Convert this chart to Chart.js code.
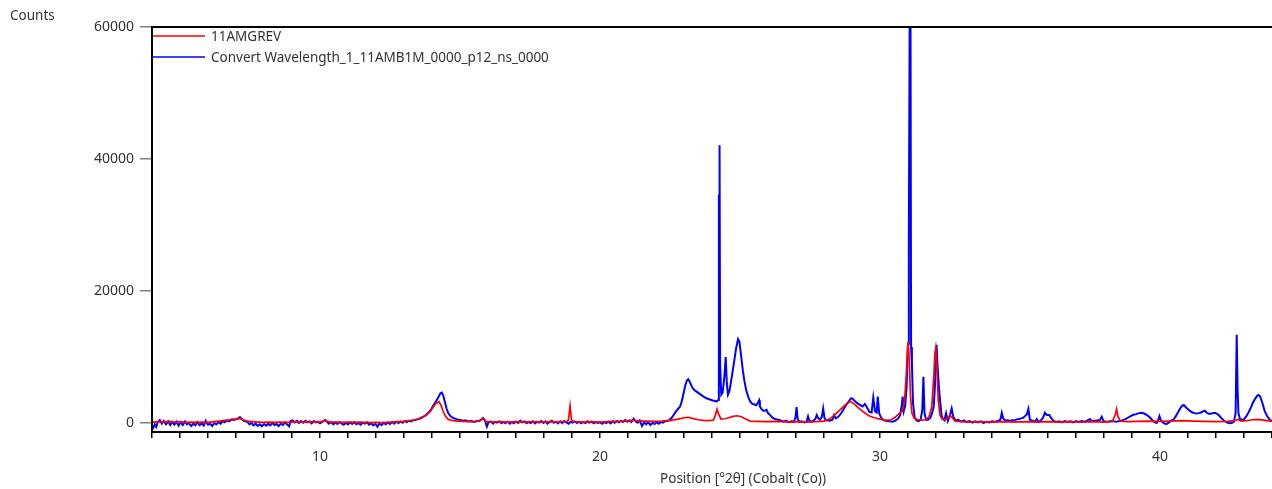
<!DOCTYPE html>
<html>
<head>
<meta charset="utf-8">
<title>11AMGREV vs 11AMB1M</title>
<script src="https://cdn.jsdelivr.net/npm/chart.js@4.4.1/dist/chart.umd.min.js"></script>
<style>
    html, body { margin: 0; padding: 0; background: #fff; overflow: hidden; }
    #wrap { width: 1272px; height: 489px; position: relative; }
</style>
</head>
<body>
<div id="wrap"><canvas id="scan"></canvas></div>
<script>
// Scan 1: 11AMGREV  [2theta, counts]
const redScan = [
    [4.00, 100], [4.20, 200], [4.40, 150], [4.60, 250], [4.80, 150], [5.00, 200], [5.20, 100],
    [5.40, 150], [5.60, 100], [5.80, 150], [6.00, 100], [6.20, 200], [6.40, 300], [6.60, 400],
    [6.80, 500], [7.00, 600], [7.14, 700], [7.25, 500], [7.40, 300], [7.60, 200], [7.80, 150],
    [8.00, 100], [8.20, 150], [8.40, 100], [8.60, 150], [8.80, 100], [9.00, 150], [9.20, 200],
    [9.40, 150], [9.60, 200], [9.80, 150], [10.00, 150], [10.18, 400], [10.35, 150], [10.60, 150],
    [10.80, 100], [11.00, 150], [11.20, 100], [11.40, 150], [11.60, 100], [11.80, 50], [12.00, 100],
    [12.20, 50], [12.40, 100], [12.60, 150], [12.80, 200], [13.00, 250], [13.20, 350], [13.40, 500],
    [13.60, 750], [13.80, 1200], [13.95, 1800], [14.05, 2450], [14.15, 3000], [14.25, 3250],
    [14.32, 2700], [14.38, 2000], [14.43, 1450], [14.50, 900], [14.58, 550], [14.70, 400],
    [14.90, 300], [15.10, 250], [15.40, 200], [15.60, 250], [15.75, 450], [15.83, 700], [15.92, 250],
    [16.10, 150], [16.40, 200], [16.70, 150], [17.00, 200], [17.30, 150], [17.60, 200], [17.90, 150],
    [18.20, 200], [18.50, 150], [18.80, 200], [18.87, 400], [18.93, 2600], [18.98, 500], [19.05, 200],
    [19.40, 150], [19.70, 200], [20.00, 150], [20.30, 200], [20.60, 250], [20.90, 300], [21.10, 400],
    [21.30, 350], [21.60, 300], [21.90, 250], [22.20, 300], [22.50, 400], [22.80, 600], [23.00, 800],
    [23.15, 870], [23.30, 700], [23.50, 500], [23.70, 400], [23.90, 350], [24.05, 450], [24.12, 1200],
    [24.18, 2100], [24.24, 1300], [24.32, 600], [24.45, 650], [24.60, 800], [24.75, 1000], [24.90, 1100],
    [25.05, 950], [25.20, 600], [25.36, 300], [25.60, 250], [25.90, 200], [26.20, 250], [26.50, 200],
    [26.80, 150], [27.10, 200], [27.40, 150], [27.70, 200], [28.00, 300], [28.20, 600], [28.40, 1300],
    [28.60, 2100], [28.80, 2900], [28.93, 3250], [29.05, 3000], [29.20, 2400], [29.40, 1700],
    [29.60, 1100], [29.80, 800], [30.00, 600], [30.20, 400], [30.40, 500], [30.55, 900], [30.70, 1500],
    [30.80, 1800], [30.88, 3500], [30.94, 7500], [30.98, 11000], [31.01, 12350], [31.05, 9000],
    [31.09, 4000], [31.14, 1500], [31.22, 700], [31.35, 500], [31.50, 450], [31.65, 500], [31.75, 900],
    [31.85, 2500], [31.92, 7000], [31.96, 10500], [31.99, 11350], [32.03, 8500], [32.08, 3500],
    [32.14, 1200], [32.22, 600], [32.32, 500], [32.42, 800], [32.50, 1200], [32.58, 800], [32.68, 300],
    [32.90, 200], [33.20, 150], [33.60, 200], [34.00, 150], [34.40, 200], [34.80, 150], [35.20, 200],
    [35.60, 150], [36.00, 200], [36.40, 150], [36.80, 200], [37.20, 150], [37.60, 200], [38.00, 150],
    [38.30, 250], [38.40, 1200], [38.45, 2130], [38.50, 1000], [38.58, 300], [38.80, 200], [39.20, 250],
    [39.60, 300], [40.00, 250], [40.40, 300], [40.80, 350], [41.20, 300], [41.60, 250], [42.00, 200],
    [42.40, 250], [42.70, 400], [42.80, 550], [42.90, 300], [43.10, 350], [43.30, 500], [43.50, 560],
    [43.70, 450], [44.00, 250]
];

// Scan 2: converted wavelength pattern  [2theta, counts]
const blueScan = [
    [4.00, -1050], [4.05, -700], [4.10, -200], [4.15, -600], [4.20, 100], [4.28, 450], [4.35, -100],
    [4.42, 300], [4.50, -200], [4.58, 250], [4.65, -300], [4.72, 150], [4.80, -250], [4.88, 200],
    [4.95, -400], [5.02, 100], [5.10, -300], [5.18, 250], [5.25, -200], [5.32, 0], [5.40, -450],
    [5.48, -100], [5.55, -350], [5.62, 150], [5.70, -300], [5.78, -50], [5.85, -400], [5.92, 350],
    [6.00, -250], [6.08, -100], [6.15, -450], [6.22, 0], [6.30, -200], [6.38, 150], [6.45, -100],
    [6.52, 300], [6.60, 100], [6.68, 400], [6.75, 250], [6.85, 550], [6.95, 500], [7.05, 650],
    [7.14, 900], [7.22, 550], [7.30, 300], [7.40, 200], [7.48, -200], [7.55, 50], [7.62, -350],
    [7.70, -100], [7.78, -450], [7.85, -200], [7.92, -500], [8.00, -150], [8.08, -400], [8.15, -100],
    [8.22, -350], [8.30, 0], [8.38, -300], [8.45, -150], [8.52, -450], [8.60, -100], [8.68, -300],
    [8.75, 100], [8.82, -200], [8.90, -500], [8.95, 300], [9.02, 400], [9.10, 100], [9.18, 350],
    [9.25, 0], [9.32, 300], [9.40, 50], [9.48, 350], [9.55, 100], [9.62, 250], [9.70, -50],
    [9.78, 300], [9.85, 100], [9.92, 200], [10.00, -50], [10.08, 150], [10.18, 450], [10.25, 200],
    [10.32, -100], [10.40, 150], [10.48, -200], [10.55, 100], [10.62, -150], [10.70, 150],
    [10.78, -100], [10.85, -250], [10.92, 50], [11.00, -200], [11.08, 100], [11.15, -150],
    [11.22, 150], [11.30, -200], [11.38, 0], [11.45, -250], [11.52, 50], [11.60, -100], [11.68, 100],
    [11.75, -250], [11.82, -50], [11.90, -350], [11.98, -150], [12.05, -550], [12.12, -100],
    [12.20, -300], [12.28, 0], [12.35, -200], [12.42, 100], [12.50, -150], [12.58, 150], [12.65, -100],
    [12.72, 200], [12.80, 0], [12.88, 250], [12.95, 50], [13.02, 300], [13.10, 150], [13.18, 350],
    [13.25, 250], [13.32, 400], [13.40, 450], [13.48, 550], [13.55, 650], [13.62, 800], [13.70, 950],
    [13.78, 1200], [13.86, 1500], [13.95, 1950], [14.03, 2550], [14.10, 3000], [14.17, 3500],
    [14.24, 4000], [14.30, 4500], [14.35, 4600], [14.40, 4200], [14.46, 3200], [14.52, 2200],
    [14.58, 1500], [14.65, 1100], [14.72, 850], [14.80, 700], [14.90, 550], [15.00, 450], [15.10, 350],
    [15.20, 400], [15.30, 250], [15.40, 300], [15.50, 150], [15.60, 300], [15.70, 350], [15.78, 600],
    [15.83, 750], [15.90, 300], [15.96, -550], [16.02, 100], [16.10, 250], [16.18, -100], [16.25, 200],
    [16.32, 50], [16.40, 250], [16.48, -50], [16.55, 150], [16.62, 0], [16.70, 200], [16.78, -100],
    [16.85, 150], [16.92, -50], [17.00, 200], [17.08, 0], [17.15, 350], [17.22, 100], [17.30, 250],
    [17.38, -50], [17.45, 150], [17.52, 0], [17.60, 250], [17.68, -50], [17.75, 200], [17.82, 50],
    [17.90, 300], [17.98, 0], [18.05, 250], [18.12, -100], [18.20, 150], [18.28, 350], [18.35, 50],
    [18.42, 200], [18.50, -50], [18.58, 250], [18.65, 0], [18.72, 300], [18.80, 100], [18.88, -100],
    [18.95, 200], [19.02, 50], [19.10, 250], [19.18, 0], [19.25, 200], [19.32, -50], [19.40, 150],
    [19.48, 0], [19.55, 250], [19.62, 50], [19.70, 200], [19.78, -50], [19.85, 150], [19.92, 0],
    [20.00, 100], [20.08, -100], [20.15, 150], [20.22, 0], [20.30, 200], [20.38, -50], [20.45, 250],
    [20.52, 50], [20.60, 300], [20.68, 100], [20.75, 350], [20.82, 150], [20.90, 450], [20.98, 200],
    [21.05, 400], [21.12, 150], [21.20, 650], [21.28, 250], [21.35, 50], [21.42, 400], [21.50, -450],
    [21.58, 100], [21.65, -200], [21.72, 150], [21.80, -300], [21.88, 50], [21.95, -150], [22.02, 100],
    [22.10, -100], [22.18, 150], [22.25, 50], [22.32, 250], [22.40, 300], [22.48, 450], [22.56, 800],
    [22.64, 1300], [22.72, 1800], [22.80, 2200], [22.86, 2500], [22.92, 3300], [22.98, 4400],
    [23.04, 5600], [23.10, 6400], [23.15, 6650], [23.20, 6300], [23.26, 5700], [23.32, 5200],
    [23.40, 4900], [23.50, 4600], [23.60, 4300], [23.70, 4000], [23.80, 3750], [23.90, 3600],
    [24.00, 3450], [24.10, 3350], [24.17, 3250], [24.22, 3500], [24.245, 34600], [24.255, 30000],
    [24.27, 42100], [24.29, 9000], [24.33, 4300], [24.38, 4600], [24.44, 7000], [24.49, 10000],
    [24.53, 6000], [24.57, 4300], [24.62, 4800], [24.70, 6800], [24.78, 9000], [24.86, 11300],
    [24.93, 12700], [24.98, 12300], [25.04, 10200], [25.10, 8000], [25.16, 6300], [25.22, 5000],
    [25.29, 4000], [25.36, 3300], [25.44, 2900], [25.52, 2800], [25.58, 2700], [25.65, 3200],
    [25.68, 3450], [25.71, 2500], [25.78, 2050], [25.85, 1850], [25.90, 1900], [25.95, 2000],
    [26.00, 1500], [26.08, 1200], [26.16, 800], [26.25, 600], [26.35, 500], [26.45, 400], [26.55, 200],
    [26.65, 350], [26.75, 100], [26.85, 300], [26.92, 150], [26.98, 800], [27.02, 2400], [27.06, 600],
    [27.12, 150], [27.20, 250], [27.30, 100], [27.38, 250], [27.43, 1000], [27.48, 300], [27.56, 200],
    [27.64, 400], [27.70, 700], [27.74, 1200], [27.80, 700], [27.86, 500], [27.92, 900], [27.97, 2200],
    [28.02, 700], [28.10, 400], [28.20, 350], [28.30, 500], [28.36, 1200], [28.42, 700], [28.50, 900],
    [28.60, 1400], [28.70, 2100], [28.80, 2800], [28.90, 3350], [28.96, 3750], [29.02, 3700],
    [29.08, 3400], [29.15, 3150], [29.22, 2900], [29.30, 2700], [29.38, 2500], [29.46, 2900],
    [29.54, 2300], [29.62, 1700], [29.70, 1600], [29.76, 3850], [29.82, 1800], [29.88, 1600],
    [29.92, 4000], [29.97, 1500], [30.05, 700], [30.15, 400], [30.25, 300], [30.35, 250], [30.45, 200],
    [30.55, 350], [30.65, 700], [30.72, 1200], [30.78, 2800], [30.81, 4000], [30.85, 1800],
    [30.90, 2600], [30.95, 5500], [31.00, 12000], [31.03, 28000], [31.06, 61000], [31.09, 61000],
    [31.11, 11500], [31.14, 9000], [31.18, 3000], [31.24, 800], [31.30, 400], [31.38, 300],
    [31.45, 500], [31.51, 2000], [31.55, 7000], [31.59, 1500], [31.65, 500], [31.72, 500], [31.80, 800],
    [31.86, 1500], [31.92, 2500], [31.96, 5500], [32.00, 11000], [32.02, 11850], [32.05, 9000],
    [32.10, 5700], [32.15, 3200], [32.20, 1100], [32.25, 600], [32.30, 400], [32.36, 1500],
    [32.42, 300], [32.50, 1200], [32.56, 2200], [32.62, 900], [32.70, 400], [32.80, 500], [32.90, 200],
    [33.00, 400], [33.10, 150], [33.20, 300], [33.30, 50], [33.40, 250], [33.50, 100], [33.60, 250],
    [33.70, 0], [33.80, 200], [33.90, 100], [34.00, 250], [34.10, 150], [34.20, 300], [34.30, 500],
    [34.35, 1550], [34.40, 700], [34.48, 350], [34.56, 400], [34.64, 300], [34.72, 450], [34.80, 400],
    [34.88, 550], [34.96, 600], [35.05, 700], [35.12, 800], [35.18, 1050], [35.24, 1300], [35.30, 2150],
    [35.35, 500], [35.42, 400], [35.50, 200], [35.56, 350], [35.60, 600], [35.66, 150], [35.74, 350],
    [35.82, 800], [35.89, 1550], [35.96, 1200], [36.05, 1200], [36.12, 700], [36.20, 300], [36.30, 150],
    [36.40, 250], [36.50, 100], [36.60, 300], [36.70, 150], [36.80, 250], [36.90, 100], [37.00, 300],
    [37.10, 150], [37.20, 300], [37.30, 200], [37.40, 350], [37.50, 600], [37.56, 300], [37.65, 350],
    [37.75, 400], [37.85, 450], [37.92, 950], [37.98, 300], [38.05, 250], [38.15, 200], [38.25, 300],
    [38.35, 250], [38.45, 200], [38.55, 300], [38.65, 400], [38.75, 550], [38.85, 800], [38.95, 1050],
    [39.05, 1250], [39.15, 1350], [39.25, 1500], [39.35, 1550], [39.45, 1400], [39.55, 1150],
    [39.65, 800], [39.72, 450], [39.80, 150], [39.88, 0], [39.94, 500], [39.98, 1050], [40.03, 400],
    [40.10, 100], [40.18, -100], [40.24, -150], [40.32, 100], [40.40, 350], [40.48, 500], [40.56, 1000],
    [40.64, 1600], [40.72, 2200], [40.80, 2650], [40.86, 2700], [40.92, 2400], [41.00, 2100],
    [41.08, 1800], [41.16, 1600], [41.24, 1500], [41.31, 1460], [41.38, 1500], [41.46, 1600],
    [41.53, 1750], [41.60, 1870], [41.67, 1550], [41.74, 1400], [41.82, 1400], [41.90, 1500],
    [41.96, 1560], [42.04, 1400], [42.12, 1100], [42.20, 700], [42.30, 300], [42.40, 50], [42.48, -50],
    [42.56, 0], [42.64, 200], [42.70, 1500], [42.74, 13370], [42.77, 5300], [42.80, 1500], [42.85, 700],
    [42.92, 450], [43.00, 600], [43.08, 1000], [43.16, 1600], [43.24, 2300], [43.32, 3100],
    [43.40, 3700], [43.48, 4150], [43.52, 4250], [43.58, 4000], [43.66, 3000], [43.74, 1800],
    [43.82, 1100], [43.90, 600], [43.98, 350], [44.00, 300]
];

const seriesNames = ['11AMGREV', 'Convert Wavelength_1_11AMB1M_0000_p12_ns_0000'];
const countTicks = [0, 20000, 40000, 60000];
const angleRange = [4, 44];
const countRange = [-1360, 60000];

const FONT = '"Noto Sans", "Open Sans", sans-serif';
const TEXT = '#333333';

const toPoints = scan => scan.map(p => ({ x: p[0], y: p[1] }));

// frame, legend and the two free-standing captions
const decorations = {
    id: 'decorations',
    afterDatasetsDraw(chart) {
        const { ctx, chartArea: a } = chart;
        ctx.save();
        ctx.strokeStyle = '#000';
        ctx.lineWidth = 2;
        ctx.beginPath();
        ctx.moveTo(a.right, a.top);
        ctx.lineTo(a.left, a.top);
        ctx.lineTo(a.left, a.bottom);
        ctx.lineTo(a.right, a.bottom);
        ctx.stroke();

        // legend in the top-left corner of the plot
        ctx.font = '13.5px ' + FONT;
        ctx.textBaseline = 'middle';
        ctx.textAlign = 'left';
        chart.data.datasets.forEach((ds, i) => {
            const y = a.top + 9 + i * 21;
            ctx.strokeStyle = ds.borderColor;
            ctx.lineWidth = 1.5;
            ctx.beginPath();
            ctx.moveTo(a.left + 1, y);
            ctx.lineTo(a.left + 53, y);
            ctx.stroke();
            ctx.fillStyle = TEXT;
            ctx.fillText(ds.label, a.left + 59, y + 1);
        });

        ctx.fillText('Counts', 10, 16);
        ctx.textAlign = 'center';
        ctx.fillText('Position [°2θ] (Cobalt (Co))', 743, 479);
        ctx.restore();
    }
};

new Chart(document.getElementById('scan'), {
    type: 'line',
    data: {
        datasets: [
            { label: seriesNames[0], data: toPoints(redScan), borderColor: '#ff0000', borderWidth: 1.7 },
            { label: seriesNames[1], data: toPoints(blueScan), borderColor: '#0000ff', borderWidth: 2 }
        ]
    },
    options: {
        responsive: true,
        maintainAspectRatio: false,
        animation: false,
        devicePixelRatio: 1,
        layout: { padding: { top: 27, right: 0, left: 0, bottom: 0 } },
        elements: { point: { radius: 0 }, line: { tension: 0 } },
        plugins: { legend: { display: false }, tooltip: { enabled: false } },
        scales: {
            x: {
                type: 'linear',
                min: angleRange[0],
                max: angleRange[1],
                afterFit: axis => {
                    axis.height = 57;
                    axis.paddingLeft = 0;
                    axis.paddingRight = 0;
                },
                border: { display: false },
                grid: { drawOnChartArea: false, drawTicks: true, tickLength: 6, color: '#000', lineWidth: 1.5 },
                ticks: {
                    stepSize: 1,
                    autoSkip: false,
                    maxRotation: 0,
                    padding: 11,
                    color: TEXT,
                    font: { family: FONT, size: 14 },
                    callback: v => (v % 10 === 0 ? String(v) : '')
                }
            },
            y: {
                type: 'linear',
                min: countRange[0],
                max: countRange[1],
                afterFit: axis => {
                    axis.width = 152;
                    axis.paddingTop = 0;
                    axis.paddingBottom = 0;
                },
                afterBuildTicks: axis => { axis.ticks = countTicks.map(v => ({ value: v })); },
                border: { display: false },
                grid: { drawOnChartArea: false, drawTicks: true, tickLength: 12, color: '#808080', lineWidth: 1.5 },
                ticks: {
                    padding: 6,
                    color: TEXT,
                    font: { family: FONT, size: 14 },
                    callback: v => String(v)
                }
            }
        }
    },
    plugins: [decorations]
});
</script>
</body>
</html>
